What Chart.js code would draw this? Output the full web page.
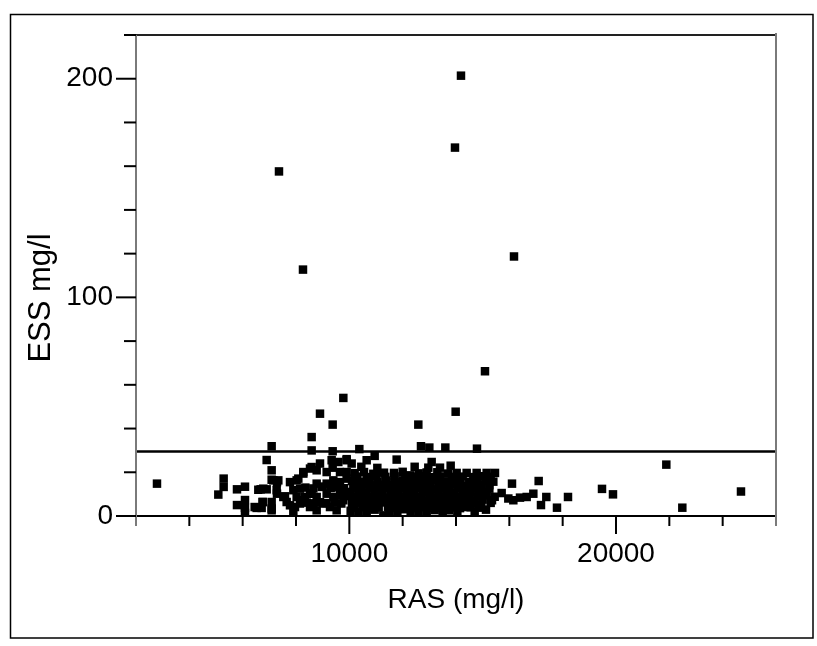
<!DOCTYPE html>
<html>
<head>
<meta charset="utf-8">
<script src="https://cdn.jsdelivr.net/npm/chart.js@4.4.1/dist/chart.umd.min.js"></script>
<style>
  body { margin: 0; background: #fff; }
  canvas { display: block; }
</style>
</head>
<body>
<canvas id="essChart" width="817" height="646"></canvas>
<script>
// RAS (x) and ESS (y)
const rasValues = [
  2787, 5287, 5287, 5087, 5787, 6087, 5787, 6087, 6087, 6087,
  6525, 6712, 6750, 6675, 6900, 7087, 7287, 7087, 6900, 7087, 7287, 7087, 7087,
  7362, 8262, 13962, 14187, 16175, 15087,
  9775, 13987, 8900, 12587, 9375, 8587, 8587, 8587, 9375, 9375, 10375, 10650, 9900, 10087,
  7587, 7775, 7900, 8025, 8087, 8275,
  12687, 13000, 13600, 14787, 11775, 13087, 21887, 11675, 12275,
  14025, 14400, 14775, 15150, 15462,
  16100, 17100, 19475, 19887, 24687, 22487, 18200, 17787, 17387, 17187, 16900,
  15712, 15962, 16150, 16400, 16650,
  12300, 11275, 13737, 14400, 15125, 13400, 12962,
  8900, 9337, 9587, 9900, 8275, 8525, 8775, 9150, 9650, 9900,
  7150, 7337, 8025, 6775, 6587, 7275, 7525, 7900, 8150,
  6450, 6750, 7087, 7650, 7775, 7962, 8150, 8337, 8587,
  8775, 8962, 9150, 9400, 9650, 9900,
  8275, 8525, 8775, 9025, 9275, 9525, 9775,
  8525, 8775, 9150, 9400, 9650, 9900,
  8350, 8650, 9000, 9300, 9550, 9800,
  8400, 8650, 8900, 9150, 9450, 9700,
  // dense block, rows from the bottom up
  10050, 10350, 10650, 10950, 11500, 11800, 12050, 12600, 12900, 13200, 13500, 14050, 14700,
  10200, 10500, 10800, 11100, 11450, 11750, 12050, 12350, 12650, 12950, 13250, 13550,
  13850, 14150, 14550, 14850,
  10100, 10400, 10700, 11000, 11300, 11600, 11900, 12200, 12500, 12800, 13100, 13400,
  13700, 14000, 14300, 14650, 14950, 15300,
  10250, 10550, 10850, 11150, 11450, 11750, 12050, 12350, 12650, 12950, 13250, 13550,
  13850, 14150, 14400, 14700, 15000, 15350,
  10000, 10300, 10600, 10900, 11200, 11500, 11800, 12100, 12400, 12700, 13000, 13300,
  13600, 13900, 14200, 14500, 14800, 15100, 15450,
  10050, 10350, 10650, 10950, 11250, 11550, 11850, 12150, 12450, 12750, 13050, 13350,
  13650, 13950, 14250, 14550, 14850, 15150,
  10150, 10450, 10750, 11050, 11350, 11650, 11950, 12250, 12550, 12850, 13150, 13450,
  13750, 14050, 14350, 14650, 14950, 15250,
  10250, 10600, 10900, 11200, 11550, 11850, 12150, 12450, 12750, 13050, 13350, 13650,
  13950, 14250, 14600, 14900, 15250,
  10100, 10400, 10750, 11050, 11400, 11700, 12000, 12350, 12650, 12950, 13250, 13550,
  13850, 14150, 14500, 14800, 15100, 15400,
  10300, 10650, 11000, 11350, 11700, 12100, 12450, 12800, 13100, 13400, 13900, 14250,
  14650, 14950, 15300,
  // upper edge
  10200, 10550, 10900, 11300, 12000, 12600, 12900, 13300, 13700,
  10450, 11050, 12450, 13800, 10950
];
const essValues = [
  14.8, 17.1, 13.3, 9.8, 12.2, 13.4, 5.0, 7.3, 3.7, 1.4,
  3.7, 3.7, 6.4, 12.2, 12.2, 16.6, 15.5, 20.9, 25.6, 31.9, 10.2, 6.4, 2.6,
  157.6, 112.7, 168.5, 201.4, 118.7, 66.2,
  54.0, 47.7, 46.8, 41.8, 41.8, 36.1, 30.0, 22.4, 29.6, 22.1, 30.6, 25.5, 25.5, 24.0,
  9.0, 15.5, 1.8, 8.7, 17.1, 20.1,
  31.9, 31.3, 31.3, 30.8, 25.8, 24.7, 23.5, 19.7, 18.6,
  19.7, 19.7, 19.7, 19.7, 19.7,
  14.8, 16.0, 12.4, 9.9, 11.2, 3.8, 8.7, 3.8, 8.7, 5.0, 10.2,
  10.5, 8.0, 7.2, 8.4, 8.7,
  0.3, 0.3, 2.6, 4.1, 2.9, 22.1, 22.1,
  24.0, 25.5, 24.7, 26.0, 19.4, 21.7, 20.9, 20.1, 20.1, 20.1,
  16.3, 16.3, 16.3, 12.5, 12.0, 11.8, 8.7, 11.8, 12.5,
  4.1, 6.4, 3.4, 6.4, 4.9, 4.1, 5.7, 8.7, 10.2,
  14.8, 13.3, 14.8, 16.3, 15.5, 17.1,
  7.2, 4.1, 2.6, 5.7, 4.1, 2.6, 7.2,
  10.2, 8.7, 10.2, 8.7, 9.5, 11.0,
  13.0, 12.6, 13.4, 12.8, 13.1, 12.7,
  6.1, 5.8, 6.3, 5.9, 6.2, 5.7,
  2.4, 1.8, 1.2, 2.9, 2.2, 1.6, 3.1, 2.0, 1.5, 2.7, 1.9, 2.3, 1.7,
  3.8, 4.0, 3.6, 3.9, 4.1, 3.7, 3.9, 3.6, 4.0, 3.8, 3.7, 4.1,
  3.9, 3.6, 4.0, 3.8,
  5.6, 6.1, 4.8, 5.3, 6.2, 5.0, 5.8, 4.6, 6.0, 5.4, 5.9, 4.9,
  5.5, 6.3, 4.7, 5.7, 5.2, 6.0,
  7.2, 7.5, 7.0, 7.3, 7.1, 7.4, 7.2, 7.0, 7.5, 7.1, 7.3, 7.2,
  7.4, 7.0, 7.3, 7.1, 7.5, 7.2,
  9.1, 8.6, 9.4, 8.9, 9.6, 8.4, 9.2, 8.8, 9.5, 8.7, 9.3, 8.5,
  9.0, 9.7, 8.6, 9.2, 8.9, 9.4, 8.8,
  10.8, 11.0, 10.6, 10.9, 10.7, 11.1, 10.8, 10.6, 11.0, 10.9, 10.7, 11.1,
  10.8, 10.6, 11.0, 10.9, 10.7, 10.8,
  12.6, 12.2, 12.9, 12.4, 12.8, 12.1, 12.7, 12.3, 12.9, 12.5, 12.2, 12.8,
  12.4, 12.7, 12.1, 12.6, 12.3, 12.5,
  14.2, 14.4, 14.0, 14.3, 14.1, 14.5, 14.2, 14.0, 14.4, 14.3, 14.1, 14.2,
  14.5, 14.0, 14.3, 14.2, 14.1,
  16.0, 15.6, 16.4, 15.8, 16.2, 15.5, 16.3, 15.9, 16.1, 15.7, 16.4, 15.8,
  16.0, 16.3, 15.6, 16.1, 15.9, 15.7,
  18.0, 17.8, 18.2, 17.9, 18.1, 17.7, 18.0, 18.2, 17.8, 18.1, 17.9, 18.0,
  17.8, 18.2, 17.9,
  19.6, 20.1, 19.3, 19.8, 20.2, 19.5, 19.9, 20.0, 19.4,
  22.5, 22.0, 22.5, 23.0, 27.5
];
const thresholdEss = 29.5;
const xRange = [2000, 26000];
const yRange = [0, 220];
const xStep = 2000;
const yStep = 20;
const xLabelTicks = [10000, 20000];
const yLabelTicks = [0, 100, 200];

const points = rasValues.map((x, i) => ({ x: x, y: essValues[i] }));
const FONT = "'Liberation Sans', Arial, sans-serif";

// frame, axis lines, tick marks and axis titles
const framePlugin = {
  id: 'frame',
  afterDraw(chart) {
    const c = chart.ctx;
    const a = chart.chartArea;
    const xs = chart.scales.x;
    const ys = chart.scales.y;
    c.save();
    c.strokeStyle = '#000';
    c.lineWidth = 1.5;
    c.strokeRect(10.5, 14.5, 802.5, 623.5);

    c.lineWidth = 2;
    c.strokeStyle = '#222';
    c.beginPath(); c.moveTo(a.left, a.top); c.lineTo(a.right, a.top); c.stroke();
    c.strokeStyle = '#000';
    c.beginPath(); c.moveTo(a.left, a.bottom); c.lineTo(a.right, a.bottom); c.stroke();
    c.strokeStyle = '#7a7a7a';
    c.beginPath(); c.moveTo(a.left, a.top); c.lineTo(a.left, a.bottom); c.stroke();
    c.beginPath(); c.moveTo(a.right, a.top - 2); c.lineTo(a.right, a.bottom); c.stroke();

    xs.ticks.forEach(t => {
      const px = xs.getPixelForValue(t.value);
      const len = xLabelTicks.includes(t.value) ? 18 : 10;
      c.strokeStyle = (t.value === xRange[0] || t.value === xRange[1]) ? '#7a7a7a' : '#000';
      c.beginPath(); c.moveTo(px, a.bottom); c.lineTo(px, a.bottom + len); c.stroke();
    });
    c.strokeStyle = '#000';
    ys.ticks.forEach(t => {
      const py = ys.getPixelForValue(t.value);
      const len = yLabelTicks.includes(t.value) ? 20 : 12;
      c.beginPath(); c.moveTo(a.left - len, py); c.lineTo(a.left, py); c.stroke();
    });

    c.fillStyle = '#000';
    c.font = '28px ' + FONT;
    c.textAlign = 'center';
    c.textBaseline = 'alphabetic';
    c.fillText('RAS (mg/l)', (a.left + a.right) / 2, 608);
    c.font = '31px ' + FONT;
    c.translate(41, 298);
    c.rotate(-Math.PI / 2);
    c.textBaseline = 'middle';
    c.fillText('ESS mg/l', 0, 0);
    c.restore();
  }
};

const ctx = document.getElementById('essChart').getContext('2d');
const chart = new Chart(ctx, {
  type: 'scatter',
  data: {
    datasets: [
      {
        label: 'ESS',
        data: points,
        pointStyle: 'rect',
        pointRadius: 6,
        pointHoverRadius: 6,
        borderWidth: 0,
        backgroundColor: '#000',
        borderColor: '#000'
      },
      {
        label: 'limit',
        type: 'line',
        data: [{ x: xRange[0], y: thresholdEss }, { x: xRange[1], y: thresholdEss }],
        borderColor: '#000',
        borderWidth: 2.5,
        pointRadius: 0,
        fill: false
      }
    ]
  },
  options: {
    responsive: false,
    animation: false,
    events: [],
    layout: { padding: { top: 35, right: 41, left: 0, bottom: 0 } },
    plugins: {
      legend: { display: false },
      tooltip: { enabled: false }
    },
    scales: {
      x: {
        type: 'linear',
        min: xRange[0],
        max: xRange[1],
        afterFit: (s) => { s.height = 130; s.paddingLeft = 0; s.paddingRight = 0; },
        grid: { display: false, drawTicks: false },
        border: { display: false },
        ticks: {
          stepSize: xStep,
          autoSkip: false,
          maxRotation: 0,
          padding: 21,
          color: '#000',
          font: { family: FONT, size: 28 },
          callback: (v) => xLabelTicks.includes(v) ? String(v) : ''
        }
      },
      y: {
        type: 'linear',
        min: yRange[0],
        max: yRange[1],
        afterFit: (s) => { s.width = 136; s.paddingTop = 0; s.paddingBottom = 0; },
        grid: { display: false, drawTicks: false },
        border: { display: false },
        ticks: {
          stepSize: yStep,
          autoSkip: false,
          padding: 23,
          color: '#000',
          font: { family: FONT, size: 28 },
          callback: (v) => yLabelTicks.includes(v) ? String(v) : ''
        }
      }
    }
  },
  plugins: [framePlugin]
});
</script>
</body>
</html>
